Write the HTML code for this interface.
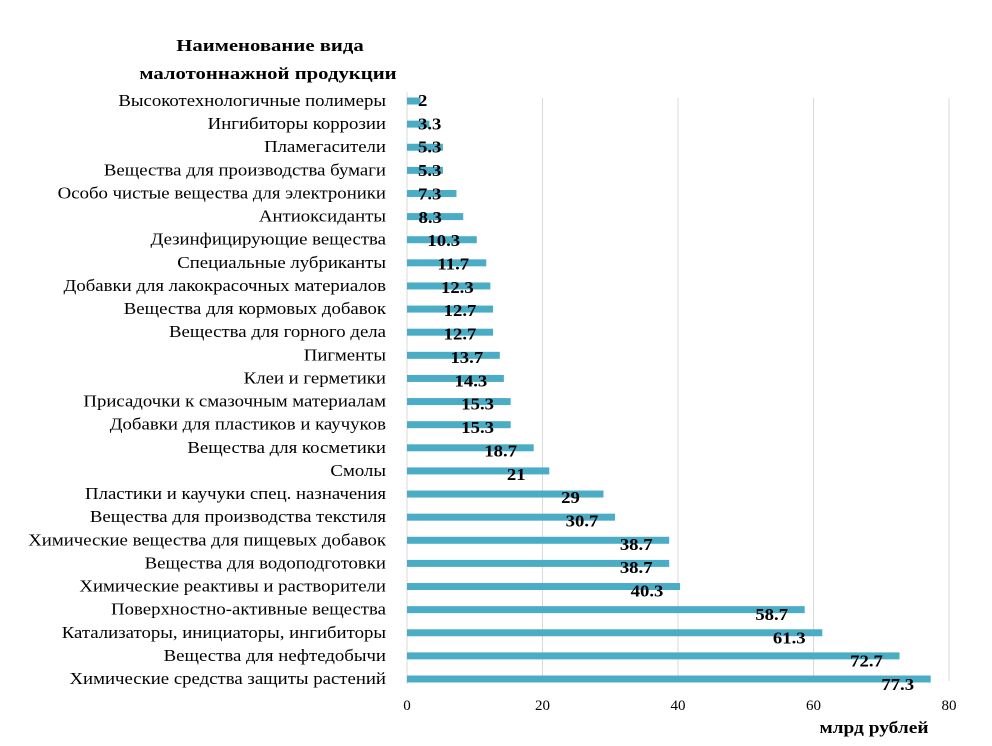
<!DOCTYPE html>
<html><head><meta charset="utf-8"><style>
html,body{margin:0;padding:0;background:#fff;}
svg{display:block;font-family:"Liberation Serif",serif;}
</style></head><body>
<svg id="chart" width="992" height="746">
<text class="st" data-f="1.22" x="270" y="51" text-anchor="middle" font-size="17" font-weight="bold">Наименование вида</text>
<text class="st" data-f="1.22" x="268" y="79" text-anchor="middle" font-size="17" font-weight="bold">малотоннажной продукции</text>
<text class="st" data-f="1.14" x="874" y="733" text-anchor="middle" font-size="17" font-weight="bold">млрд рублей</text>
<g id="grid"></g><g id="bars"></g><g id="labels"></g><g id="vals"></g><g id="ticks"></g>
</svg>
<script>
const categories=["Высокотехнологичные полимеры","Ингибиторы коррозии","Пламегасители","Вещества для производства бумаги","Особо чистые вещества для электроники","Антиоксиданты","Дезинфицирующие вещества","Специальные лубриканты","Добавки для лакокрасочных материалов","Вещества для кормовых добавок","Вещества для горного дела","Пигменты","Клеи и герметики","Присадочки к смазочным материалам","Добавки для пластиков и каучуков","Вещества для косметики","Смолы","Пластики и каучуки спец. назначения","Вещества для производства текстиля","Химические вещества для пищевых добавок","Вещества для водоподготовки","Химические реактивы и растворители","Поверхностно-активные вещества","Катализаторы, инициаторы, ингибиторы","Вещества для нефтедобычи","Химические средства защиты растений"];
const values=[2,3.3,5.3,5.3,7.3,8.3,10.3,11.7,12.3,12.7,12.7,13.7,14.3,15.3,15.3,18.7,21,29,30.7,38.7,38.7,40.3,58.7,61.3,72.7,77.3];
const ticks=[0,20,40,60,80];
const NS="http://www.w3.org/2000/svg";
const x=v=>407+v*(542/80);
const y=i=>101+i*(578/(categories.length-1));
function mk(t,a,p){const e=document.createElementNS(NS,t);for(const k in a)e.setAttribute(k,a[k]);document.getElementById(p).appendChild(e);return e;}
function stretch(t,f){const w=t.getComputedTextLength();t.setAttribute('textLength',w*f);t.setAttribute('lengthAdjust','spacingAndGlyphs');return w*f;}
document.querySelectorAll('.st').forEach(t=>stretch(t,parseFloat(t.getAttribute('data-f'))));
ticks.forEach((t,i)=>{
  if(i>0){const g=mk('line',{x1:x(t),x2:x(t),y1:98,y2:681,stroke:'#d9d9d9','stroke-width':1},'grid');
  
  }
  const tl=mk('text',{x:x(t),y:710,'text-anchor':'middle','font-size':15},'ticks');tl.textContent=t;
  
  
});
const ax=mk('line',{x1:407,x2:407,y1:92,y2:684,stroke:'#d9d9d9','stroke-width':1},'grid');


categories.forEach((c,i)=>{
  const yc=y(i),v=values[i];
  const b=mk('rect',{x:407,y:yc-3.5,width:x(v)-407,height:7,fill:'#4bacc6'},'bars');
  
  
  const l=mk('text',{x:386,y:yc+5,'text-anchor':'end','font-size':17},'labels');l.textContent=c;
  
  
  stretch(l,1.105);
  const t=mk('text',{y:yc+5+6*i/(categories.length-1),'text-anchor':'middle','font-size':17,'font-weight':'bold'},'vals');t.textContent=v;
  
  
  const w=stretch(t,1.1);
  t.setAttribute('x',Math.max(x(v)-33,418+w/2));
});
</script>
</body></html>
